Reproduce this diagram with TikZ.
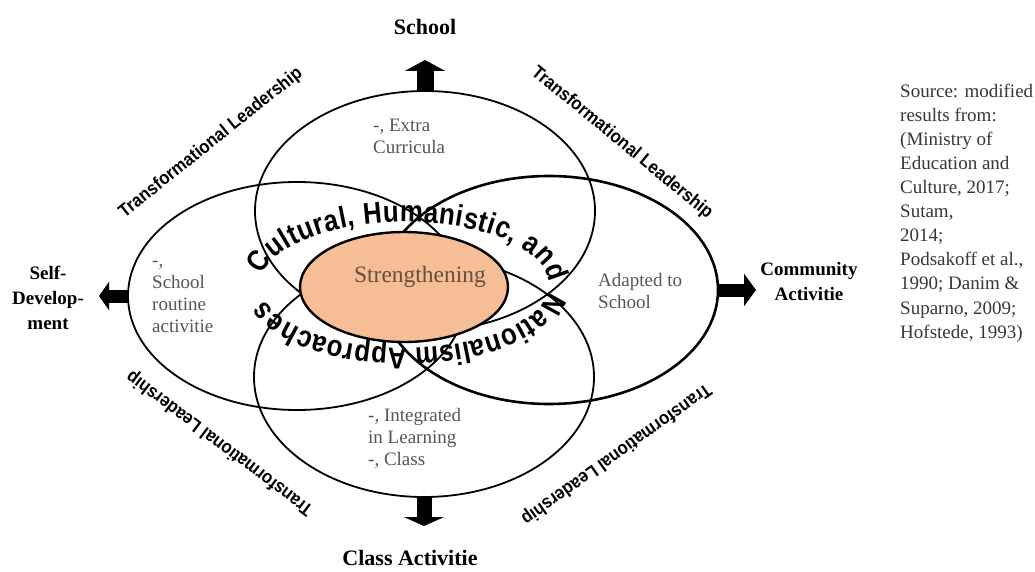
\documentclass[tikz,border=0pt]{standalone}
\usepackage{fontspec}
\setmainfont{Liberation Serif}
\setsansfont{Liberation Sans}
\newfontfamily\arcfam{Liberation Sans}[FakeStretch=0.86]
\newfontfamily\leadfam{Liberation Sans}[FakeStretch=0.9]
\usetikzlibrary{arrows.meta,shapes.geometric,decorations.text}
\definecolor{orangefill}{RGB}{245,190,150}
\definecolor{innertext}{RGB}{85,85,85}
\definecolor{srctext}{RGB}{55,55,55}
\definecolor{strtext}{RGB}{105,78,58}
\newcommand\arcfont{\arcfam\bfseries\fontsize{30}{30}\selectfont}
\begin{document}
\begin{tikzpicture}[x=1pt,y=-1pt,
  ring/.style={ellipse, draw=black, line width=1.8pt, inner sep=0pt, outer sep=0pt},
  core/.style={ellipse, draw=black, line width=2.4pt, fill=orangefill, inner sep=0pt, outer sep=0pt},
  lead/.style={font=\leadfam\bfseries\fontsize{18.5}{20}\selectfont, inner sep=0pt},
  biglabel/.style={font=\bfseries\fontsize{22}{26}\selectfont, inner sep=0pt},
  sidelabel/.style={font=\bfseries\fontsize{19}{25}\selectfont, align=center, inner sep=0pt},
  innerlabel/.style={font=\fontsize{19}{22}\selectfont, align=left, text=innertext, anchor=west, inner sep=0pt},
  srclabel/.style={font=\fontsize{19}{24.1}\selectfont, align=left, text=srctext, anchor=west, inner sep=0pt},
]
\fill[white] (0,0) rectangle (1035,572);
\useasboundingbox (0,0) rectangle (1035,572);

% four ellipses
\node[ring, minimum width=340pt, minimum height=240pt] (etop) at (425,211) {};
\node[ring, minimum width=340pt, minimum height=240pt] (ebot) at (424,377) {};
\node[ring, minimum width=338pt, minimum height=228pt] (eleft) at (297,296) {};
\node[ring, line width=2.6pt, minimum width=338pt, minimum height=228pt] (eright) at (549,290) {};

% core
\node[core, minimum width=208pt, minimum height=110pt] (core) at (404,287) {};
\node[font=\fontsize{23.5}{26}\selectfont, text=strtext, inner sep=0pt] (str) at (420,277) {Strengthening};

% arc text
\path[decorate, decoration={text along path,
   text={|\arcfont|Cultural, Humanistic, and Nationalism Approaches},
   text align={fit to path}}]
   (405,285) ++(-171:144 and 63) arc[start angle=-171, end angle=166, x radius=144, y radius=63];

% arrows
\coordinate (tipN) at (425,60);
\coordinate (tipS) at (424,526);
\coordinate (tipW) at (99,296);
\coordinate (tipE) at (756,290);
\draw[line width=17pt, -{Triangle[width=40pt,length=11pt]}] (etop.north) -- (tipN);
\draw[line width=15pt, -{Triangle[width=40pt,length=9pt]}] (ebot.south) -- (tipS);
\draw[line width=13pt, -{Triangle[width=28pt,length=10pt]}] (eleft.west) -- (tipW);
\draw[line width=13pt, -{Triangle[width=32pt,length=12pt]}] (eright.east) -- (tipE);

% outer labels
\node[biglabel] (school) at (425,27) {School};
\node[biglabel] (classact) at (410,558) {Class Activitie};
\node[sidelabel] (selfdev) at (48,298) {Self-\\Develop-\\ment};
\node[sidelabel] (commact) at (809,281) {Community\\Activitie};

% inner labels
\node[innerlabel] (extra) at (373,136) {-, Extra\\Curricula};
\node[innerlabel] (routine) at (152,297) {-,\\School\\routine\\activitie};
\node[innerlabel] (adapted) at (598,291) {Adapted to\\School};
\node[innerlabel] (integrated) at (368,438) {-, Integrated\\in Learning\\-, Class};

% transformational leadership
\node[lead, rotate=38.6] (tl1) at (211,143) {Transformational Leadership};
\node[lead, rotate=-39.4] (tl2) at (622,143) {Transformational Leadership};
\node[lead, rotate=143] (tl3) at (220,443) {Transformational Leadership};
\node[lead, rotate=215.6] (tl4) at (616,454) {Transformational Leadership};

% source
\node[srclabel] (source) at (900,213) {Source: modified\\results from:\\(Ministry of\\Education and\\Culture, 2017;\\Sutam,\\2014;\\Podsakoff et al.,\\1990; Danim \&\\Suparno, 2009;\\Hofstede, 1993)};
\end{tikzpicture}
\end{document}
